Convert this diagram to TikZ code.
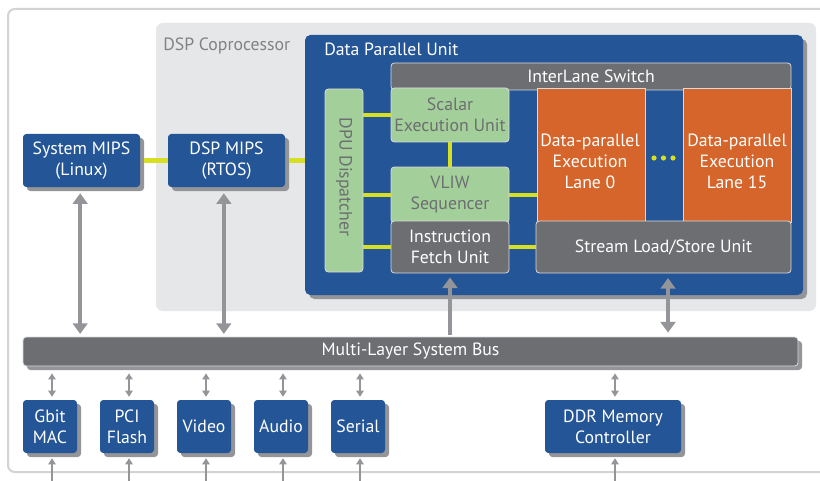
\documentclass[tikz,border=0pt]{standalone}
\usepackage{fontspec}
\setmainfont{PT Sans}
\usetikzlibrary{arrows.meta,shadows,calc}
\definecolor{dblue}{HTML}{245597}
\definecolor{dgray}{HTML}{6D6E71}
\definecolor{lgreen}{HTML}{A3CF9A}
\definecolor{dorange}{HTML}{D5652A}
\definecolor{yel}{HTML}{D7DF23}
\definecolor{regiongray}{HTML}{E6E7E8}
\definecolor{shgray}{HTML}{939598}
\definecolor{framegray}{HTML}{D1D3D4}
\definecolor{edgegray}{HTML}{D9DADB}
\definecolor{titlegray}{HTML}{808285}
\tikzset{
  rect/.style n args={4}{at={({(#1+#3)/2},{(#2+#4)/2})}, minimum width={(#3-#1)*0.75pt}, minimum height={(#4-#2)*0.75pt}},
  shad/.style={drop shadow={opacity=1, fill=shgray, shadow xshift=3pt, shadow yshift=-3pt}},
  base/.style={inner sep=0pt, align=center, rounded corners=2.5pt},
  bluebox/.style={base, fill=dblue, text=white, shad},
  greenbox/.style={base, fill=lgreen, draw=edgegray, line width=0.6pt, text=dgray},
  graybox/.style={base, fill=dgray, draw=edgegray, line width=0.6pt, text=white},
  lanebox/.style={base, rounded corners=0pt, fill=dorange, draw=edgegray, line width=0.6pt, text=white},
  lanetext/.style={inner sep=0pt, align=center, text=white},
  yline/.style={draw=yel, line width=3pt},
  bigarrow/.style={draw=shgray, line width=3pt, {Triangle[width=11pt,length=8pt]}-{Triangle[width=11pt,length=8pt]}},
  bigarrowup/.style={draw=shgray, line width=3pt, -{Triangle[width=11pt,length=8pt]}},
  smallarrow/.style={draw=shgray, line width=1.5pt, {Triangle[width=5.5pt,length=4.5pt]}-{Triangle[width=5.5pt,length=4.5pt]}},
  smallarrowup/.style={draw=shgray, line width=1.5pt, {Triangle[width=5.5pt,length=4.5pt]}-},
}
\begin{document}
\begin{tikzpicture}[x=0.75pt,y=-0.75pt,font=\fontsize{13.3}{15.8}\selectfont]
\useasboundingbox (0,0) rectangle (820,481);
\clip (0,0) rectangle (820,481);
\fill[white] (0,0) rectangle (820,481);
% outer frame
\node[draw=framegray, line width=1.5pt, fill=white, rounded corners=5pt, inner sep=0pt, rect={8}{9}{840}{472}] (frame) {};
% DSP coprocessor region
\node[fill=regiongray, rounded corners=5pt, inner sep=0pt, rect={156}{23}{816}{311}] (copro) {};
\node[anchor=west, text=titlegray, inner sep=0pt] (coprotitle) at (163,46) {DSP Coprocessor};
% Data parallel unit
\node[fill=dblue, rounded corners=4pt, inner sep=0pt, shad, rect={305}{35}{803}{295}] (dpu) {};
\node[anchor=west, text=white, inner sep=0pt] (dputitle) at (324,49) {Data Parallel Unit};
% MIPS boxes
\node[bluebox, rect={23}{134}{140}{187}] (sysmips) {System MIPS\\(Linux)};
\node[bluebox, rect={168}{134}{285}{187}] (dspmips) {DSP MIPS\\(RTOS)};
% inner blocks
\node[graybox, rect={391}{63}{791}{90}] (switch) {InterLane Switch};
\node[greenbox, rect={325}{89}{363}{272}] (disp) {};
\node[rotate=-90, text=dgray, inner sep=0pt] (disptext) at (344,177) {DPU Dispatcher};
\node[greenbox, rect={391}{88}{509}{142}] (scalar) {Scalar\\Execution Unit};
\node[greenbox, rect={391}{167}{509}{223}] (vliw) {VLIW\\Sequencer};
\node[graybox, rect={391}{221}{509}{273}] (ifu) {Instruction\\Fetch Unit};
\node[lanebox, rect={537}{88}{645}{222}] (lane0) {};
\node[lanetext] (lane0text) at (590,161) {Data-parallel\\Execution\\Lane 0};
\node[lanebox, rect={683}{88}{791}{222}] (lane15) {};
\node[lanetext] (lane15text) at (737,161) {Data-parallel\\Execution\\Lane 15};
\node[graybox, rect={536}{221}{791}{273}] (stream) {Stream Load/Store Unit};
% yellow connectors
\draw[yline] ([xshift=3pt]sysmips.east) -- (dspmips.west);
\draw[yline] ([xshift=3pt]dspmips.east) -- (dspmips.east -| dpu.west);
\draw[yline] (disp.east |- scalar.west) -- (scalar.west);
\draw[yline] (disp.east |- vliw.west) -- (vliw.west);
\draw[yline] (disp.east |- ifu.west) -- (ifu.west);
\draw[yline] (scalar.south) -- (vliw.north);
\draw[yline] (vliw.east) -- (vliw.east -| lane0.west);
\draw[yline] (ifu.east) -- (ifu.east -| stream.west);
\fill[yel] (654,158) circle (2.6) (663.5,158) circle (2.6) (673,158) circle (2.6);
% bus
\node[graybox, shad, rect={23}{337}{798}{366}] (bus) {Multi-Layer System Bus};
% peripherals
\node[bluebox, rect={23}{400}{77}{453}] (gbit) {Gbit\\MAC};
\node[bluebox, rect={100}{400}{154}{453}] (pci) {PCI\\Flash};
\node[bluebox, rect={177}{400}{231}{453}] (video) {Video};
\node[bluebox, rect={254}{400}{308}{453}] (audio) {Audio};
\node[bluebox, rect={331}{400}{385}{453}] (serial) {Serial};
\node[bluebox, rect={545}{400}{681}{453}] (ddr) {DDR Memory\\Controller};
% big arrows
\draw[bigarrow, shorten <=4.5pt, shorten >=2pt] ([xshift=-1pt]sysmips.south) -- ([xshift=-1pt]sysmips.south |- bus.north);
\draw[bigarrow, shorten <=4.5pt, shorten >=2pt] ([xshift=-2pt]dspmips.south) -- ([xshift=-2pt]dspmips.south |- bus.north);
\draw[bigarrowup, shorten <=1.5pt, shorten >=3pt] (ifu.south |- bus.north) -- (ifu.south);
\draw[bigarrow, shorten <=3.5pt, shorten >=3pt] ([xshift=3.4pt]stream.south) -- ([xshift=3.4pt]stream.south |- bus.north);
% small arrows
\foreach \n in {gbit,pci,video,audio,serial,ddr}{
  \draw[smallarrow, shorten <=5.25pt, shorten >=2.25pt] ([xshift=1.5pt]\n.north |- bus.south) -- ([xshift=1.5pt]\n.north);
  \draw[smallarrowup, shorten <=3.75pt] ([xshift=1.5pt]\n.south) -- ($([xshift=1.5pt]\n.south)+(0,40)$);
}
\end{tikzpicture}
\end{document}
